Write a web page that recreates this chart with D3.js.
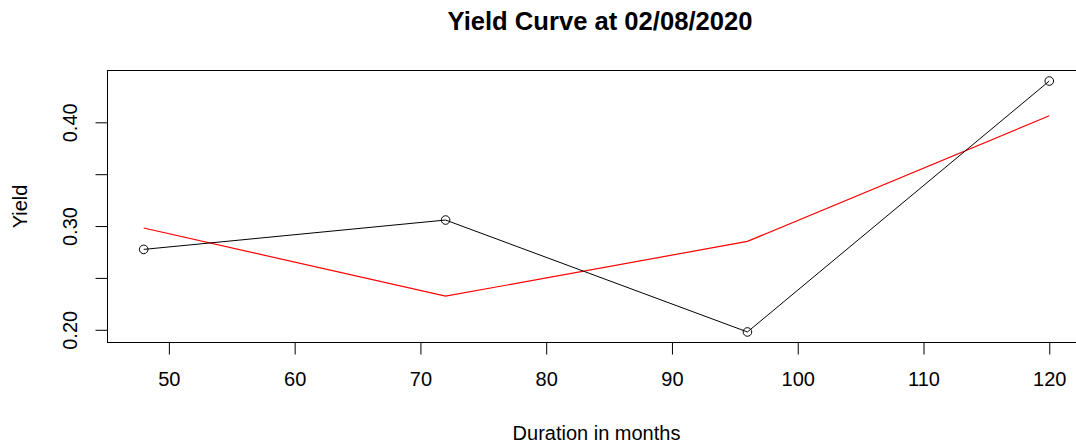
<!DOCTYPE html>
<html>
<head>
<meta charset="utf-8">
<script src="https://cdn.jsdelivr.net/npm/d3@7"></script>
<style>
  html, body { margin: 0; padding: 0; background: #fff; }
  svg { display: block; font-family: "Liberation Sans", Arial, sans-serif; }
</style>
</head>
<body>
<svg id="chart" width="1076" height="445"></svg>
<script>
// Durations (months) and yields
const durations = [48, 72, 96, 120];
const observedYield = [0.2775, 0.3058, 0.1979, 0.4398];
const fittedYield = [0.2981, 0.2324, 0.2852, 0.4063];

const xTicks = [50, 60, 70, 80, 90, 100, 110, 120];
const yTicks = [0.20, 0.25, 0.30, 0.35, 0.40];
const yTickLabels = ["0.20", "", "0.30", "", "0.40"];

const titleText = "Yield Curve at 02/08/2020";
const xLabel = "Duration in months";
const yLabel = "Yield";

const svg = d3.select("#chart");

// plot region
const plotLeft = 107.5, plotRight = 1085.5, plotTop = 71, plotBottom = 342;

// axis limits padded by 4% of the data range on each side
function padded(ext) {
  const d = (ext[1] - ext[0]) * 0.04;
  return [ext[0] - d, ext[1] + d];
}
const x = d3.scaleLinear().domain(padded(d3.extent(durations))).range([plotLeft, plotRight]);
const y = d3.scaleLinear().domain(padded(d3.extent(observedYield))).range([plotBottom, plotTop]);

// box
svg.append("rect")
  .attr("x", plotLeft).attr("y", plotTop - 0.5)
  .attr("width", plotRight - plotLeft).attr("height", plotBottom - plotTop + 1)
  .attr("fill", "none").attr("stroke", "#000").attr("stroke-width", 1);

// x axis
const xAxis = d3.axisBottom(x).tickValues(xTicks).tickSize(12).tickPadding(17)
  .tickFormat(d3.format("d"));
const gx = svg.append("g").attr("transform", `translate(0,${plotBottom + 0.5})`).call(xAxis);
gx.select(".domain").remove();
gx.selectAll(".tick line").attr("stroke", "#000");
gx.selectAll(".tick text")
  .attr("font-size", 20).attr("fill", "#000")
  .attr("font-family", "Liberation Sans, Arial, sans-serif");

// y axis
const yAxis = d3.axisLeft(y).tickValues(yTicks).tickSize(12)
  .tickFormat((d, i) => yTickLabels[i]);
const gy = svg.append("g").attr("transform", `translate(${plotLeft},0)`).call(yAxis);
gy.select(".domain").remove();
gy.selectAll(".tick line").attr("stroke", "#000");
gy.selectAll(".tick text")
  .attr("font-size", 20).attr("fill", "#000")
  .attr("font-family", "Liberation Sans, Arial, sans-serif")
  .attr("text-anchor", "middle")
  .attr("dy", 0)
  .attr("x", null)
  .attr("transform", `translate(${77 - plotLeft},0) rotate(-90)`);

// fitted curve (red)
const line = d3.line().x(d => x(d[0])).y(d => y(d[1]));
svg.append("path")
  .datum(durations.map((d, i) => [d, fittedYield[i]]))
  .attr("d", line)
  .attr("fill", "none").attr("stroke", "#ff0000").attr("stroke-width", 1.2);

// observed curve (black, line and open circles)
const obs = durations.map((d, i) => [d, observedYield[i]]);
svg.append("path")
  .datum(obs)
  .attr("d", line)
  .attr("fill", "none").attr("stroke", "#000").attr("stroke-width", 1);
svg.selectAll("circle.obs").data(obs).enter().append("circle")
  .attr("class", "obs")
  .attr("cx", d => x(d[0])).attr("cy", d => y(d[1]))
  .attr("r", 4.3)
  .attr("fill", "none").attr("stroke", "#000").attr("stroke-width", 1);

// title and axis labels
const cx = (plotLeft + plotRight) / 2;
svg.append("text")
  .attr("x", 600).attr("y", 29.5)
  .attr("text-anchor", "middle")
  .attr("font-size", 25.6).attr("font-weight", "bold")
  .text(titleText);

svg.append("text")
  .attr("x", cx).attr("y", 440)
  .attr("text-anchor", "middle")
  .attr("font-size", 20)
  .text(xLabel);

svg.append("text")
  .attr("transform", `translate(27,${(plotTop + plotBottom) / 2}) rotate(-90)`)
  .attr("text-anchor", "middle")
  .attr("font-size", 20)
  .text(yLabel);
</script>
</body>
</html>
